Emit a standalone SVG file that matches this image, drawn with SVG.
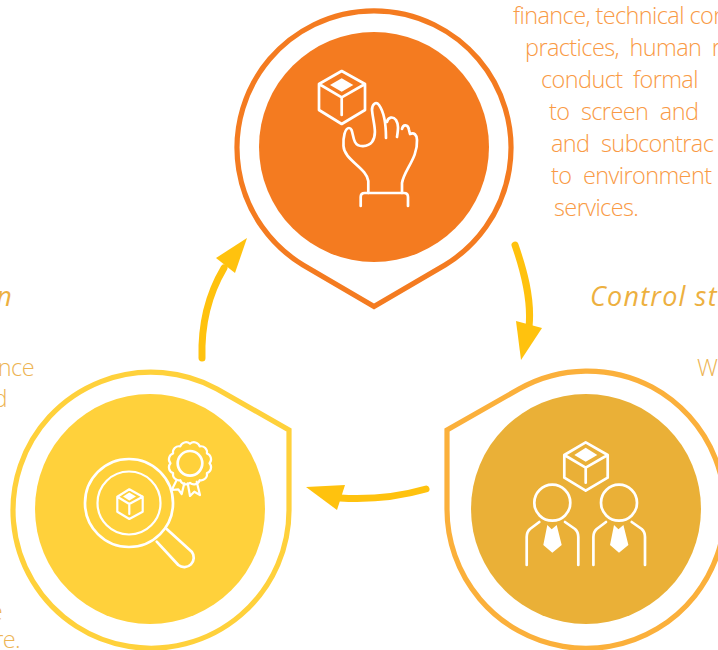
<svg xmlns="http://www.w3.org/2000/svg" width="718" height="650" viewBox="0 0 718 650">
<style>
.txt{font-family:"Open Sans","Noto Sans","Liberation Sans",sans-serif;font-weight:300;font-size:23.5px;letter-spacing:-.6px}
.ttl{font-family:"Open Sans","Noto Sans","Liberation Sans",sans-serif;font-style:italic;font-size:27px;letter-spacing:1.2px;fill:#EDB03F}
.org{fill:#F99A45}.amb{fill:#EDB453}
.ring{fill:#fff;stroke-width:5.200;stroke-linejoin:miter}
.ico{fill:none;stroke:#fff;stroke-width:2.700;stroke-linecap:round;stroke-linejoin:round}
.thin{stroke-width:2.200}
.fil{fill:#fff;stroke:none}
.arr{fill:none;stroke:#FFC20E;stroke-width:7;stroke-linecap:round}
.hd{fill:#FFC20E}
</style>
<rect width="718" height="650" fill="#fff"/>
<g id="node-top">
<path class="ring" stroke="#F47B20" d="M303 265A137 137 0 1 1 445 265L374 306.500Z"/>
<circle cx="374" cy="147" r="115" fill="#F47B20"/>
<path class="ico" d="M341.700 71L365 84V110L341.700 124L319 110V84ZM319 84L341.700 97.300L365 84M341.700 97.300V115"/>
<path class="fil" d="M341.700 78.300L353.300 85L341.700 91.700L330 85Z"/>
<path class="ico" d="M368.300 193V181C367 168 344 160 343.500 146C343 137 345 128 349 128C353 128 352 136 355 142C358 148 368 147 372 142C378 134 373 122 372 110C372 104 376 101 379 105C384 112 386 126 386 138M387 122C388 117 393 116 396 120C399 125 398 130 397 137M402 129C403 124 408 124 409 130L410 134C414 132 417 135 417 140C418 158 404 170 402 183V193"/>
<path class="ico" d="M360.700 206V197Q360.700 193 364.700 193H404Q408 193 408 197V206"/>
</g>
<g id="node-right">
<path class="ring" stroke="#FBB03B" d="M519 389L447 430V509A139 139 0 1 0 652 387A139 139 0 0 0 519 389Z"/>
<circle cx="586" cy="509" r="115" fill="#EAB037"/>
<path class="ico" d="M585.700 442.300L607.700 455V477.700L585.700 490.700L564.300 477.700V455ZM564.300 455L585.700 467.700L607.700 455M585.700 467.700V482.700"/>
<path class="fil" d="M585.700 447.700L597.300 455L585.700 461.700L574.300 455Z"/>
<circle class="ico" cx="552.300" cy="502.700" r="18"/>
<circle class="ico" cx="619" cy="502.700" r="18"/>
<path class="ico" d="M539.300 522L530 529Q526.700 532 526.700 537V565M565 522L575 529Q578.300 532 578.300 537V565M606 522L596.700 529Q593.400 532 593.400 537V565M631.700 522L641.700 529Q645 532 645 537V565"/>
<path class="fil" d="M547.300 525L551.700 529.300L556.700 525L561.700 545L552.300 552.700L543.300 545Z"/>
<path class="fil" d="M614 525L618.400 529.300L623.400 525L628.400 545L619 552.700L610 545Z"/>
</g>
<g id="node-left">
<path class="ring" stroke="#FFD13B" d="M217 389L289 430V509A138 138 0 1 1 217 389Z"/>
<circle cx="150" cy="509" r="115" fill="#FFD13B"/>
<circle class="ico" cx="129" cy="503" r="44"/>
<circle class="ico thin" cx="129" cy="503" r="31.500"/>
<path class="ico thin" d="M129.300 489.300L142.700 496.700V511.700L129.300 519L117.300 511.700V496.700ZM117.300 496.700L129.300 504L142.700 496.700M129.300 504V514"/>
<path class="fil" d="M129.300 492.500L136 496.500L129.300 500.500L123 496.500Z"/>
<path class="ico" d="M166.700 529L191.700 551.700A9.500 9.500 0 0 1 178.300 565L156.700 541.700"/>
<circle class="ico" cx="190" cy="463.300" r="12.300"/>
<path class="ico thin" d="M209.500 463.300A6 6 0 0 1 206.900 473.050A6 6 0 0 1 199.750 480.200A6 6 0 0 1 190 482.800A6 6 0 0 1 180.250 480.200A6 6 0 0 1 173.100 473.050A6 6 0 0 1 170.500 463.300A6 6 0 0 1 173.100 453.550A6 6 0 0 1 180.250 446.400A6 6 0 0 1 190 443.800A6 6 0 0 1 199.750 446.400A6 6 0 0 1 206.900 453.550A6 6 0 0 1 209.500 463.300Z"/>
<path class="ico thin" d="M176.700 480L171.700 490L178.300 489.300L181.700 494L184.300 483.300M187.700 483.300L190 496L194.300 491.700L200 495L196.700 481.700"/>
</g>
<g id="connectors">
<path class="arr" d="M515 245C523 268 532 298 529 327"/>
<path class="hd" d="M521 360L516 321L542 328Z"/>
<path class="arr" d="M426 489C398 497 372 500 340 498"/>
<path class="hd" d="M306 487L345 485L337 510Z"/>
<path class="arr" d="M202 358C201 325 208 295 224 268"/>
<path class="hd" d="M247 238L216 258L235 273Z"/>
</g>
<g id="text-top">
<text class="txt org" x="513" y="24">finance, technical con</text>
<text class="txt org" x="525" y="56" word-spacing="5">practices, human r</text>
<text class="txt org" x="541" y="88" word-spacing="5">conduct formal</text>
<text class="txt org" x="549" y="120" word-spacing="6">to screen and</text>
<text class="txt org" x="551" y="152" word-spacing="6">and subcontrac</text>
<text class="txt org" x="551" y="184" word-spacing="6">to environment</text>
<text class="txt org" x="554" y="216">services.</text>
</g>
<g id="text-right">
<text class="ttl" x="590" y="306">Control str</text>
<text class="txt amb" x="697" y="376">W</text>
</g>
<g id="text-left">
<text class="ttl" x="13" y="306" text-anchor="end">n</text>
<text class="txt amb" x="34" y="376" text-anchor="end">nce</text>
<text class="txt amb" x="7" y="407" text-anchor="end">d</text>
<text class="txt amb" x="2" y="620" text-anchor="end">e</text>
<text class="txt amb" x="20" y="648" text-anchor="end">re.</text>
</g>
</svg>
